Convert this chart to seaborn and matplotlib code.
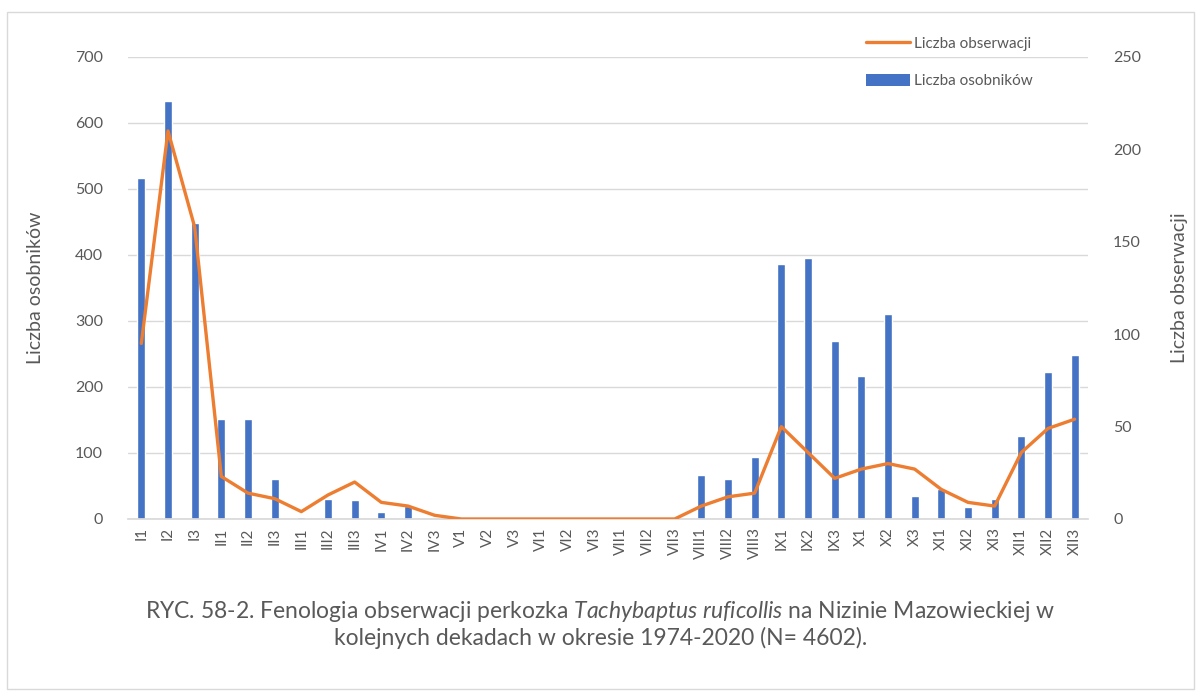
import numpy as np
import pandas as pd
import matplotlib
matplotlib.use("Agg")
import matplotlib.pyplot as plt
from matplotlib.patches import Rectangle
from matplotlib.lines import Line2D
import seaborn as sns

# Ten-day periods (dekady) of each month
dekady = ["I1", "I2", "I3", "II1", "II2", "II3", "III1", "III2", "III3",
          "IV1", "IV2", "IV3", "V1", "V2", "V3", "VI1", "VI2", "VI3",
          "VII1", "VII2", "VII3", "VIII1", "VIII2", "VIII3", "IX1", "IX2", "IX3",
          "X1", "X2", "X3", "XI1", "XI2", "XI3", "XII1", "XII2", "XII3"]

# Number of individuals (left axis)
osobniki = [516, 634, 449, 151, 151, 60, 3, 31, 29,
            11, 20, 0, 0, 0, 0, 0, 0, 0,
            0, 0, 0, 66, 60, 94, 387, 395, 269,
            217, 311, 35, 46, 18, 31, 126, 222, 248]

# Number of observations (right axis)
obserwacje = [95, 210, 158, 23, 14, 11, 4, 13, 20,
              9, 7, 2, 0, 0, 0, 0, 0, 0,
              0, 0, 0, 7, 12, 14, 50, 36, 22,
              27, 30, 27, 16, 9, 7, 36, 49, 54]

left_ticks = [0, 100, 200, 300, 400, 500, 600, 700]
right_ticks = [0, 50, 100, 150, 200, 250]

BAR_COLOR = "#4472C4"
LINE_COLOR = "#ED7D31"
TEXT_COLOR = "#595959"
GRID_COLOR = "#D9D9D9"

df = pd.DataFrame({"dekada": dekady, "osobniki": osobniki, "obserwacje": obserwacje})

sns.set_theme(style="white")
plt.rcParams["font.family"] = ["Lato", "DejaVu Sans"]
plt.rcParams["mathtext.fontset"] = "custom"
plt.rcParams["mathtext.rm"] = "Lato"
plt.rcParams["mathtext.it"] = "Lato:italic"

fig = plt.figure(figsize=(12.01, 6.93), dpi=100)
fig.patch.set_facecolor("white")

# Light frame around the whole chart
fig.add_artist(Rectangle((7 / 1201, 1 - 689 / 693), 1187 / 1201, 677 / 693,
                         transform=fig.transFigure, fill=False,
                         edgecolor=GRID_COLOR, linewidth=1.0))

ax = fig.add_axes([128 / 1201, 1 - 519 / 693, 960 / 1201, 462 / 693])

sns.barplot(data=df, x="dekada", y="osobniki", order=dekady, color=BAR_COLOR,
            saturation=1, width=0.3, ax=ax, zorder=2)
ax.set_ylim(0, 700)
ax.set_yticks(left_ticks)
ax.set_xlim(-0.5, len(dekady) - 0.5)
ax.yaxis.grid(True, color=GRID_COLOR, linewidth=1.0, zorder=0)
ax.set_axisbelow(True)
for s in ax.spines.values():
    s.set_visible(False)
ax.spines["bottom"].set_visible(True)
ax.spines["bottom"].set_color(GRID_COLOR)
ax.tick_params(axis="y", length=0, pad=18, labelsize=11.5, labelcolor=TEXT_COLOR)
ax.tick_params(axis="x", length=0, pad=6, labelsize=11, labelcolor=TEXT_COLOR,
               rotation=90)
ax.set_xlabel("")
ax.set_ylabel("Liczba osobników", fontsize=14, color=TEXT_COLOR)
ax.yaxis.set_label_coords(-0.088, 0.5)

ax2 = ax.twinx()
sns.lineplot(data=df, x="dekada", y="obserwacje", sort=False, color=LINE_COLOR,
             linewidth=2.4, ax=ax2, zorder=3)
ax2.set_ylim(0, 250)
ax2.set_yticks(right_ticks)
ax2.set_xlim(-0.5, len(dekady) - 0.5)
for s in ax2.spines.values():
    s.set_visible(False)
ax2.tick_params(axis="y", length=0, pad=18, labelsize=11.5, labelcolor=TEXT_COLOR)
ax2.set_ylabel("Liczba obserwacji", fontsize=14, color=TEXT_COLOR, rotation=90)
ax2.yaxis.set_label_coords(1.086, 0.5)
ax2.grid(False)

handles = [Line2D([0], [0], color=LINE_COLOR, linewidth=2.4),
           Rectangle((0, 0), 1, 1, facecolor=BAR_COLOR, edgecolor="none")]
leg = fig.legend(handles, ["Liczba obserwacji", "Liczba osobników"],
                 loc="upper left", bbox_to_anchor=(858 / 1201, 1 - 29 / 693),
                 frameon=False, fontsize=11, handlelength=2.9, handleheight=0.75,
                 handletextpad=0.25, labelspacing=1.55, borderpad=0)
for t in leg.get_texts():
    t.set_color(TEXT_COLOR)

caption1 = (r"RYC. 58-2. Fenologia obserwacji perkozka "
            r"$\mathit{Tachybaptus\ ruficollis}$ na Nizinie Mazowieckiej w")
caption2 = "kolejnych dekadach w okresie 1974-2020 (N= 4602)."
fig.text(0.5, 1 - 612 / 693, caption1, ha="center", va="center",
         fontsize=16.5, color=TEXT_COLOR)
fig.text(0.5, 1 - 638 / 693, caption2, ha="center", va="center",
         fontsize=16.5, color=TEXT_COLOR)

fig.savefig("out.png", dpi=100, facecolor="white")
